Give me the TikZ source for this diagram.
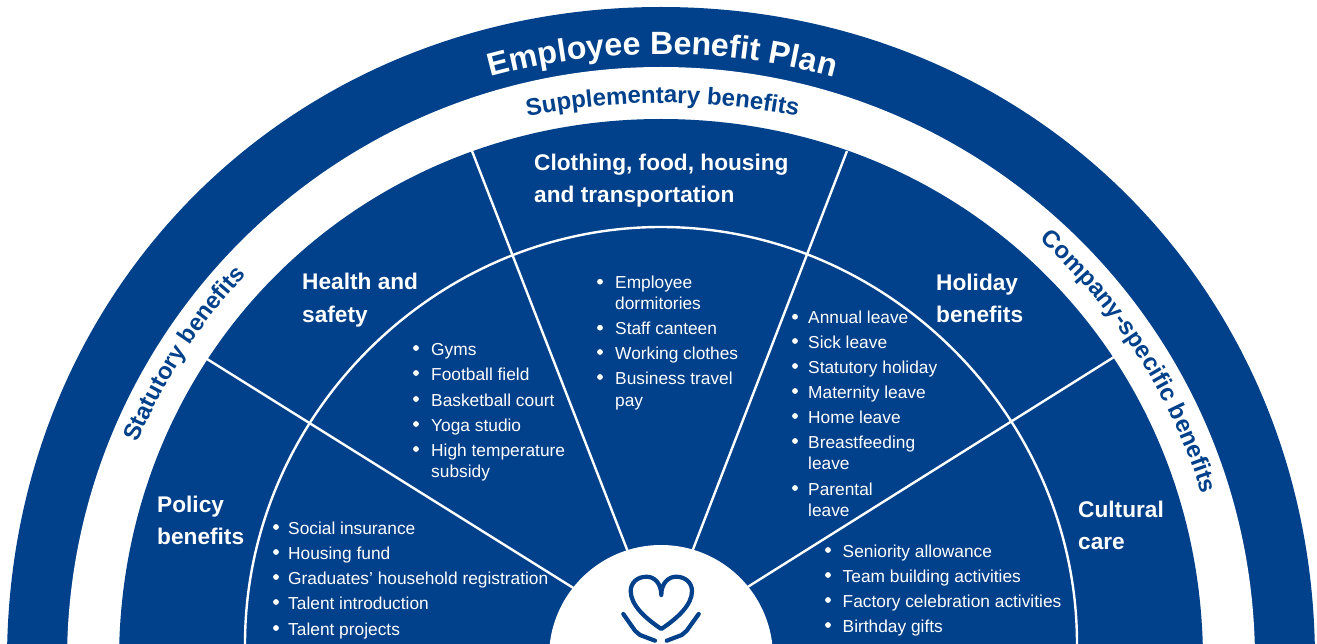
\documentclass[tikz,border=0pt]{standalone}
\usepackage{fontspec}
\setmainfont{Liberation Sans}
\usetikzlibrary{decorations.text,calc}
\definecolor{planblue}{HTML}{01408A}
\tikzset{
  head/.style={anchor=base west,inner sep=0pt,text=white,font=\fontsize{22.67}{24}\selectfont\bfseries},
  item/.style={anchor=base west,inner sep=0pt,text=white,font=\fontsize{17.33}{18}\selectfont},
  spoke/.style={draw=white,line width=2.4pt},
  icon/.style={draw=planblue,line width=4.2pt,line cap=round,line join=round},
}
\newcommand{\quarterdome}[4]{% cx cy r kappa
  (#1-#3,#2) .. controls (#1-#3,#2-#4*#3) and (#1-#4*#3,#2-#3) .. (#1,#2-#3)
  .. controls (#1+#4*#3,#2-#3) and (#1+#3,#2-#4*#3) .. (#1+#3,#2) -- cycle}
\newcommand{\curved}[6]{% centre-x centre-y radius a1 a2 format+text
  \path[decorate,decoration={text along path,text align=center,text={#6}}]
    ([shift={(#4:#3pt)}]#1pt,-#2pt) arc[start angle=#4,end angle=#5,radius=#3pt];}
\begin{document}
\begin{tikzpicture}[x=1pt,y=-1pt]
\clip (0,0) rectangle (1317,644);
\fill[planblue] \quarterdome{661}{661}{654}{0.567};
\fill[white] \quarterdome{661}{661}{594}{0.552};
\fill[planblue] \quarterdome{661}{661}{542}{0.5627};
% spokes
\coordinate (s1a) at (472,151); \coordinate (s1b) at (628,552);
\coordinate (s2a) at (847,151); \coordinate (s2b) at (692,552);
\coordinate (s3a) at (207,359); \coordinate (s3b) at (575,589);
\coordinate (s4a) at (1114,357); \coordinate (s4b) at (746,588);
\draw[spoke] (s1a)--(s1b); \draw[spoke] (s2a)--(s2b);
\draw[spoke] (s3a)--(s3b); \draw[spoke] (s4a)--(s4b);
% inner arc
\draw[spoke] (245,650) -- (245,644) .. controls (245,644-0.545*417) and (661-0.545*416,227) .. (661,227)
  .. controls (661+0.545*416,227) and (1077,644-0.545*417) .. (1077,644) -- (1077,650);
% hub
\fill[white] (661,657) circle (112pt);
% icon
\draw[icon] (661.3,595) .. controls (661.3,583) and (654,576.7) .. (646.7,576.7)
  .. controls (637,576.7) and (630.7,583) .. (630.7,591)
  .. controls (630.7,605) and (645,618) .. (661.3,629)
  .. controls (677.6,618) and (692,605) .. (692,591)
  .. controls (692,583) and (685.6,576.7) .. (676,576.7)
  .. controls (668.6,576.7) and (661.3,583) .. (661.3,595);
\draw[icon] (623.3,614) -- (635,630.7) -- (640,635) -- (655,640.7);
\draw[icon] (698.7,614) -- (686.7,630.7) -- (681.7,635) -- (666.7,640.7);
% curved labels
\curved{662.5}{704}{650}{115}{65}{|\fontsize{32.2}{32}\selectfont\bfseries\color{white}|Employee Benefit Plan}
\curved{662.5}{803}{700}{106}{74}{|\fontsize{24}{24}\selectfont\bfseries\color{planblue}|Supplementary benefits}
\curved{661}{661}{567}{164.7}{129.7}{|\fontsize{23.7}{24}\selectfont\bfseries\color{planblue}|Statutory benefits}
\curved{661}{661}{566}{57.6}{7.6}{|\fontsize{24}{24}\selectfont\bfseries\color{planblue}|Company-specific benefits}
% headings
\node[head] (h1a) at (534,171) {Clothing, food, housing};
\node[head] (h1b) at (534,202.7) {and transportation};
\node[head] (h2a) at (302,290) {Health and};
\node[head] (h2b) at (302,322.7) {safety};
\node[head] (h3a) at (157,512) {Policy};
\node[head] (h3b) at (157,544) {benefits};
\node[head] (h4a) at (936,290.7) {Holiday};
\node[head] (h4b) at (936,322.7) {benefits};
\node[head] (h5a) at (1078,517) {Cultural};
\node[head] (h5b) at (1078,549) {care};
% lists
\foreach \y/\b/\t [count=\i] in {534/1/Social insurance,559/1/Housing fund,584/1/Graduates’ household registration,609/1/Talent introduction,635/1/Talent projects}{
  \node[item] (pol\i) at (288,\y) {\t};
  \ifnum\b=1 \fill[white] (276,\y-7) circle (2.9pt);\fi}
\foreach \y/\b/\t [count=\i] in {355/1/Gyms,380/1/Football field,406/1/Basketball court,431/1/Yoga studio,456/1/High temperature,477/0/subsidy}{
  \node[item] (hea\i) at (431,\y) {\t};
  \ifnum\b=1 \fill[white] (416,\y-7) circle (2.9pt);\fi}
\foreach \y/\b/\t [count=\i] in {288.7/1/Employee,309/0/dormitories,334.7/1/Staff canteen,359/1/Working clothes,384/1/Business travel,406/0/pay}{
  \node[item] (clo\i) at (615,\y) {\t};
  \ifnum\b=1 \fill[white] (600,\y-7) circle (2.9pt);\fi}
\foreach \y/\b/\t [count=\i] in {323.7/1/Annual leave,348/1/Sick leave,373/1/Statutory holiday,398/1/Maternity leave,423/1/Home leave,448/1/Breastfeeding,469.7/0/leave,495/1/Parental,516/0/leave}{
  \node[item] (hol\i) at (808,\y) {\t};
  \ifnum\b=1 \fill[white] (795,\y-7) circle (2.9pt);\fi}
\foreach \y/\b/\t [count=\i] in {557/1/Seniority allowance,582/1/Team building activities,607/1/Factory celebration activities,632/1/Birthday gifts}{
  \node[item] (cul\i) at (842.5,\y) {\t};
  \ifnum\b=1 \fill[white] (828,\y-7) circle (2.9pt);\fi}
\end{tikzpicture}
\end{document}
